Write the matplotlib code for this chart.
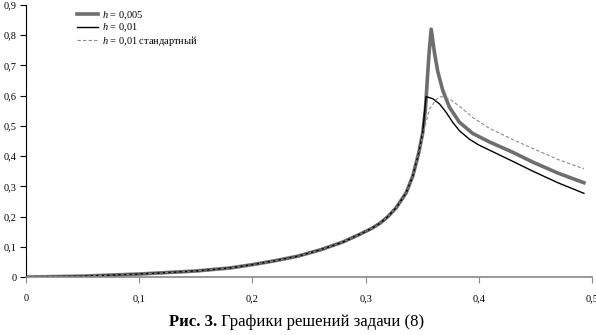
import matplotlib
matplotlib.use('Agg')
import matplotlib.pyplot as plt
from matplotlib.ticker import FuncFormatter

plt.rcParams['font.family'] = ['Liberation Serif', 'DejaVu Serif']
plt.rcParams['mathtext.fontset'] = 'custom'
plt.rcParams['mathtext.it'] = 'Liberation Serif:italic'
plt.rcParams['mathtext.rm'] = 'Liberation Serif'

# common rising part (same for all solutions up to the blow-up)
x_rise = [0.0, 0.05, 0.1, 0.15, 0.18, 0.2, 0.22, 0.24, 0.26, 0.28, 0.2946, 0.305, 0.3131,
          0.32, 0.327, 0.3359, 0.3417, 0.347]
y_rise = [0.0, 0.003, 0.01, 0.02, 0.03, 0.041, 0.054, 0.069, 0.09, 0.116, 0.141, 0.16, 0.179,
          0.201, 0.229, 0.279, 0.334, 0.411]

# h = 0.005
x_h005 = [0.3505, 0.3529, 0.3545, 0.3562, 0.358, 0.3609, 0.3638, 0.3682, 0.3741, 0.383,
          0.3947, 0.4095, 0.43, 0.448, 0.47, 0.493]
y_h005 = [0.477, 0.555, 0.65, 0.745, 0.82, 0.742, 0.68, 0.618, 0.562, 0.512,
          0.475, 0.447, 0.413, 0.38, 0.344, 0.312]

# h = 0.01
x_h01 = [0.3505, 0.3525, 0.3535, 0.3594, 0.3653, 0.3712, 0.377, 0.383, 0.3918, 0.4, 0.4095,
         0.43, 0.448, 0.47, 0.493]
y_h01 = [0.477, 0.56, 0.597, 0.59, 0.573, 0.545, 0.512, 0.484, 0.456, 0.437, 0.42,
         0.383, 0.35, 0.312, 0.277]

# h = 0.01 standard
x_std = [0.3505, 0.3565, 0.3624, 0.3668, 0.3741, 0.383, 0.3947, 0.4095, 0.43, 0.448,
         0.47, 0.493]
y_std = [0.47, 0.555, 0.588, 0.597, 0.59, 0.565, 0.528, 0.492, 0.455, 0.425,
         0.389, 0.358]

x_ticks = [0, 0.1, 0.2, 0.3, 0.4, 0.5]
y_ticks = [0, 0.1, 0.2, 0.3, 0.4, 0.5, 0.6, 0.7, 0.8, 0.9]

fig = plt.figure(figsize=(5.96, 3.35), dpi=100)
ax = fig.add_axes([0.044, 0.173, 0.949, 0.812])

ax.plot(x_rise + x_h005, y_rise + y_h005, color='#6e6e6e', lw=2.6,
        label='$h$ = 0,005', solid_joinstyle='round')
ax.plot(x_rise + x_h01, y_rise + y_h01, color='black', lw=1.0, label='$h$ = 0,01')
ax.plot(x_rise + x_std, y_rise + y_std, color='#8a8a8a', lw=0.8, ls=(0, (3, 2)),
        label='$h$ = 0,01 стандартный')

ax.set_xlim(0, 0.5)
ax.set_ylim(0, 0.9)
ax.set_xticks(x_ticks)
ax.set_yticks(y_ticks)

fmt = FuncFormatter(lambda v, p: '0' if abs(v) < 1e-9 else ('%g' % round(v, 2)).replace('.', ','))
ax.xaxis.set_major_formatter(fmt)
ax.yaxis.set_major_formatter(fmt)

for s in ['top', 'right']:
    ax.spines[s].set_visible(False)
ax.spines['bottom'].set_color('#888888')
ax.spines['bottom'].set_linewidth(1.2)
ax.spines['left'].set_color('black')
ax.spines['left'].set_linewidth(0.8)

ax.tick_params(axis='x', direction='out', length=4, width=0.8, color='#888888',
               labelsize=7.5, pad=8.5)
ax.tick_params(axis='y', direction='out', length=4, width=0.8, labelsize=7.5, pad=3)

ax.legend(loc='upper left', bbox_to_anchor=(0.083, 1.0), frameon=False,
          fontsize=7.5, handlelength=2.0, handletextpad=0.4, labelspacing=0.0,
          borderaxespad=0)

# caption: bold part + regular part, centred as a whole
fig.canvas.draw()
r = fig.canvas.get_renderer()
t1 = fig.text(0, 0.027, 'Рис. 3.', fontsize=12, fontweight='bold', va='baseline')
t2 = fig.text(0, 0.027, ' Графики решений задачи (8)', fontsize=12, va='baseline')
w1 = t1.get_window_extent(r).width
w2 = t2.get_window_extent(r).width
W = fig.bbox.width
x0 = (W * 0.497 - (w1 + w2) / 2) / W
t1.set_x(x0)
t2.set_x(x0 + w1 / W)

fig.savefig('out.png', dpi=100)
